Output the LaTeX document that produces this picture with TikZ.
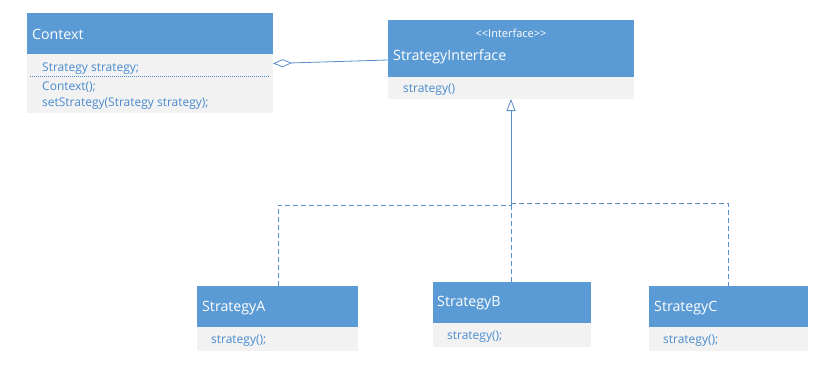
\documentclass[tikz,border=0pt]{standalone}
\usepackage{fontspec}
\setmainfont{Open Sans}
\usetikzlibrary{arrows.meta}
\definecolor{hdr}{HTML}{5B9BD5}
\definecolor{bdy}{HTML}{F2F2F2}
\definecolor{txt}{HTML}{4A8BCF}
\definecolor{lnc}{HTML}{5B8FC9}
\tikzset{
  hbox/.style={draw=none,fill=hdr,anchor=north west,inner sep=0pt,minimum width=#1},
  bbox/.style={draw=none,fill=bdy,anchor=north west,inner sep=0pt,minimum width=#1},
  htext/.style={anchor=west,inner sep=0pt,yshift=-1.5pt,text=white,font=\fontsize{14.2}{16}\selectfont},
  btext/.style={anchor=west,inner sep=0pt,yshift=-1.5pt,text=txt,font=\fontsize{12}{13}\selectfont},
  conn/.style={draw=lnc,line width=0.8pt},
  dashconn/.style={draw=lnc,line width=0.8pt,dash pattern=on 5pt off 3pt},
}
\begin{document}
\begin{tikzpicture}[x=1pt,y=-1pt]
\useasboundingbox (0,0) rectangle (840,380);
% Context
\node[hbox=246pt,minimum height=41pt] (ctxH) at (27,13) {};
\node[bbox=246pt,minimum height=59pt] (ctxB) at (27,54) {};
\node[htext] (ctxT) at (32,33) {Context};
\node[btext] (ctxA) at (42,67) {Strategy strategy;};
\node[btext] (ctxM1) at (42,86) {Context();};
\node[btext] (ctxM2) at (42,102) {setStrategy(Strategy strategy);};
\coordinate (sepL) at (30,76);
\coordinate (sepR) at (270,76);
\draw[draw=txt,line width=0.6pt,dash pattern=on 1pt off 1pt] (sepL) -- (sepR);
% Interface
\node[hbox=246pt,minimum height=57pt] (ifH) at (388,20) {};
\node[bbox=246pt,minimum height=22pt] (ifB) at (388,77) {};
\node[anchor=center,inner sep=0pt,text=white,font=\fontsize{11}{12}\selectfont] (ifS) at (511,33) {<{}<Interface>{}>};
\node[htext] (ifT) at (393,55) {StrategyInterface};
\node[btext] (ifM) at (403,88) {strategy()};
% Strategy A
\node[hbox=161pt,minimum height=41pt] (aH) at (197,286) {};
\node[bbox=161pt,minimum height=24pt] (aB) at (197,327) {};
\node[htext] (aT) at (202,307) {StrategyA};
\node[btext] (aM) at (211,339) {strategy();};
% Strategy B
\node[hbox=158pt,minimum height=41pt] (bH) at (433,282) {};
\node[bbox=158pt,minimum height=24pt] (bB) at (433,323) {};
\node[htext] (bT) at (437,302) {StrategyB};
\node[btext] (bM) at (447,335) {strategy();};
% Strategy C
\node[hbox=159pt,minimum height=41pt] (cH) at (649,286) {};
\node[bbox=159pt,minimum height=24pt] (cB) at (649,327) {};
\node[htext] (cT) at (654,307) {StrategyC};
\node[btext] (cM) at (663,339) {strategy();};
% Aggregation
\coordinate (ifIn) at (388,60);
\coordinate (ctxOut) at (273,63.5);
\draw[conn,-{Diamond[open,length=19pt,width=8pt,fill=white]}] (ifIn) -- (ctxOut);
% Realization
\coordinate (jn) at (511,205);
\coordinate (jl) at (278,205);
\coordinate (jr) at (728,203);
\coordinate (ifBot) at (511,99);
\draw[conn,-{Triangle[open,length=12pt,width=9pt,fill=white]}] (jn) -- (ifBot);
\draw[dashconn] (aH.north -| jl) -- (jl) -- (jn);
\draw[dashconn] (jn) -- (bH.north -| jn);
\draw[dashconn] (jn |- jr) -- (jr) -- (cH.north -| jr);
\end{tikzpicture}
\end{document}
